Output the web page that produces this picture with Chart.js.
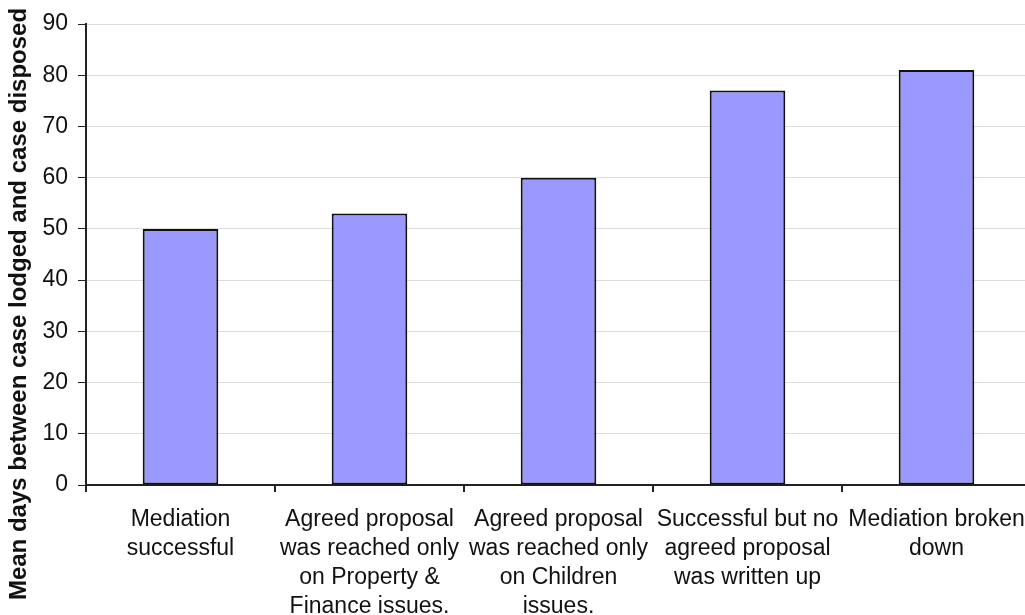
<!DOCTYPE html>
<html>
<head>
<meta charset="utf-8">
<script src="https://cdn.jsdelivr.net/npm/chart.js@4/dist/chart.umd.min.js"></script>
<style>
  html, body { margin: 0; padding: 0; background: #fff; overflow: hidden; }
  #wrap { width: 1040px; height: 615px; }
</style>
</head>
<body>
<div id="wrap"><canvas id="meanDaysChart" width="1040" height="615"></canvas></div>
<script>
// Mean days between lodging and disposal, by mediation outcome
const outcomes = [
  ['Mediation', 'successful'],
  ['Agreed proposal', 'was reached only', 'on Property &', 'Finance issues.'],
  ['Agreed proposal', 'was reached only', 'on Children', 'issues.'],
  ['Successful but no', 'agreed proposal', 'was written up'],
  ['Mediation broken', 'down']
];
const meanDays = [50, 53, 60, 77, 81];
const yTicks = [0, 10, 20, 30, 40, 50, 60, 70, 80, 90];
const yTitle = 'Mean days between case lodged and case disposed';

const font = "'Liberation Sans', Arial, sans-serif";

// y title sits lower than the plot centre in the original, so draw it by hand
const yTitlePlugin = {
  id: 'yTitle',
  afterDraw(chart) {
    const c = chart.ctx;
    c.save();
    c.translate(19, 304);
    c.rotate(-Math.PI / 2);
    c.font = 'bold 24px ' + font;
    c.fillStyle = '#111';
    c.textAlign = 'center';
    c.textBaseline = 'middle';
    c.fillText(yTitle, 0, 0);
    c.restore();
  }
};

const ctx = document.getElementById('meanDaysChart').getContext('2d');
new Chart(ctx, {
  type: 'bar',
  data: {
    labels: outcomes,
    datasets: [{
      data: meanDays,
      backgroundColor: '#9999ff',
      borderColor: '#111',
      borderWidth: 2,
      borderSkipped: false,
      barPercentage: 0.8,
      categoryPercentage: 0.5
    }]
  },
  plugins: [yTitlePlugin],
  options: {
    responsive: false,
    animation: false,
    layout: { padding: { top: 24, right: 9, bottom: 0, left: 0 } },
    plugins: { legend: { display: false }, tooltip: { enabled: false } },
    scales: {
      x: {
        grid: { display: true, drawOnChartArea: false, offset: true, tickLength: 7, tickColor: '#222', lineWidth: 2 },
        border: { color: '#222', width: 2 },
        ticks: { color: '#111', font: { family: font, size: 23, lineHeight: 1.26 }, maxRotation: 0, autoSkip: false, padding: 13 },
        afterFit: (s) => { s.height = 130; }
      },
      y: {
        min: 0,
        max: 90,
        afterBuildTicks: (s) => { s.ticks = yTicks.map(v => ({ value: v })); },
        grid: { color: '#dcdcdc', lineWidth: 1, tickLength: 8, tickColor: '#222' },
        border: { color: '#222', width: 2 },
        ticks: { color: '#111', font: { family: font, size: 23 }, padding: 10 },
        afterFit: (s) => { s.width = 86; }
      }
    }
  }
});
</script>
</body>
</html>
